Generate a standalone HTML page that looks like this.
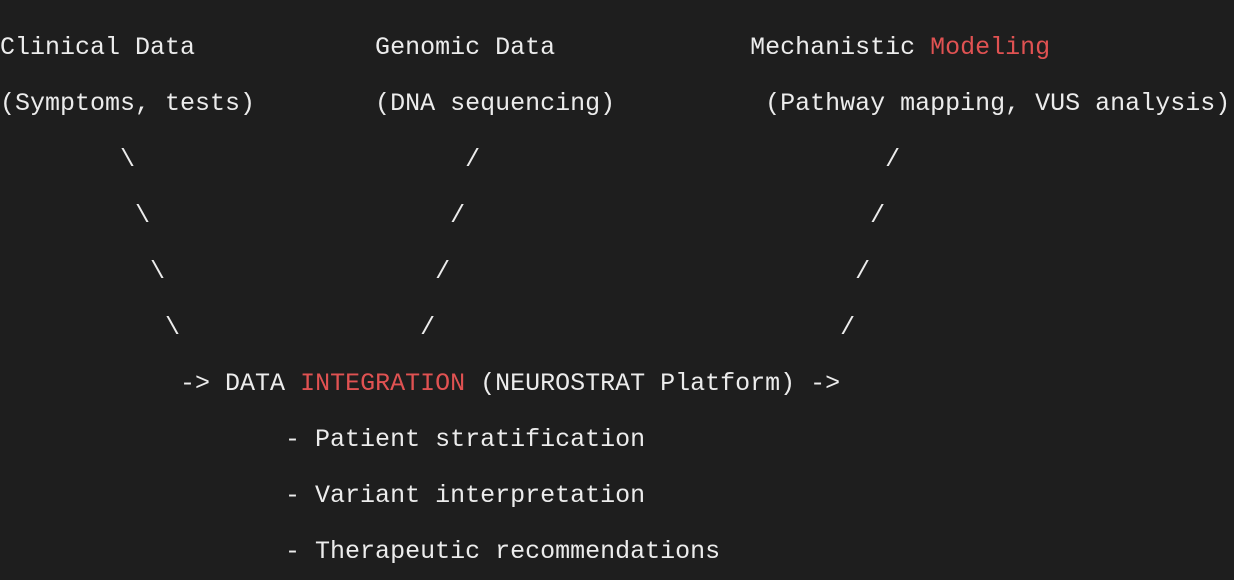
<!DOCTYPE html>
<html><head><meta charset="utf-8"><style>
html,body{margin:0;padding:0;background:#1e1e1e;width:1234px;height:576px;overflow:hidden}
pre{margin:0;position:absolute;left:0;top:20px;font-family:"Liberation Mono",monospace;font-size:25px;line-height:56px;color:#ececec;white-space:pre}
.r{color:#e05252}
</style></head><body>
<pre>Clinical Data            Genomic Data             Mechanistic <span class="r">Modeling</span>
(Symptoms, tests)        (DNA sequencing)          (Pathway mapping, VUS analysis)
        \                      /                           /
         \                    /                           /
          \                  /                           /
           \                /                           /
            -> DATA <span class="r">INTEGRATION</span> (NEUROSTRAT Platform) ->
                   - Patient stratification
                   - Variant interpretation
                   - Therapeutic recommendations</pre>
</body></html>
